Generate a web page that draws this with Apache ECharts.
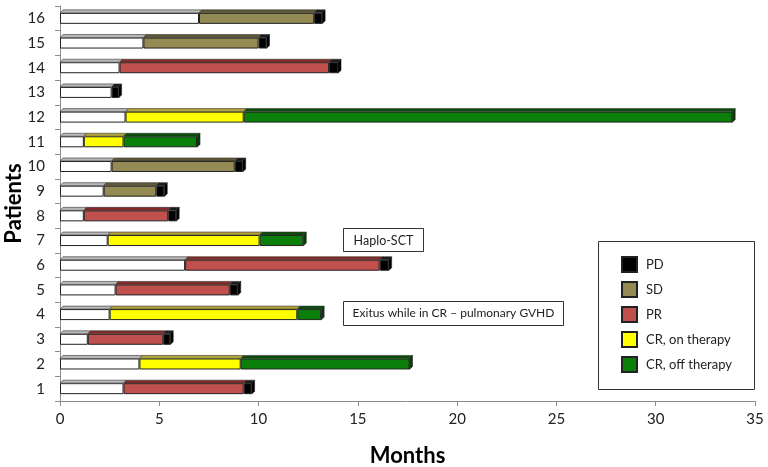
<!DOCTYPE html>
<html>
<head>
<meta charset="utf-8">
<script src="https://cdn.jsdelivr.net/npm/echarts@6/dist/echarts.min.js"></script>
<style>
  html, body { margin: 0; padding: 0; background: #fff; }
  #chart { width: 768px; height: 467px; }
</style>
</head>
<body>
<div id="chart"></div>
<script>
// patients 1..16 (bottom to top)
const patients = ['1','2','3','4','5','6','7','8','9','10','11','12','13','14','15','16'];

// months per segment (null = segment absent)
const before   = [3.2, 4.0, 1.4, 2.5, 2.8, 6.3, 2.4, 1.2, 2.2, 2.6, 1.2, 3.3, 2.6, 3.0, 4.2, 7.0];
const sd       = [null, null, null, null, null, null, null, null, 2.65, 6.2, null, null, null, null, 5.8, 5.8];
const pr       = [6.05, null, 3.8, null, 5.75, 9.8, null, 4.25, null, null, null, null, null, 10.55, null, null];
const crOn     = [null, 5.1, null, 9.45, null, null, 7.65, null, null, null, 2.0, 5.95, null, null, null, null];
const crOff    = [null, 8.5, null, 1.2, null, null, 2.2, null, null, null, 3.7, 24.6, null, null, null, null];
const pd       = [0.4, null, 0.35, null, 0.4, 0.45, null, 0.4, 0.4, 0.4, null, null, 0.35, 0.45, 0.4, 0.4];

const xTicks = [0, 5, 10, 15, 20, 25, 30, 35];

const segs = [
  { name: 'before', data: before, color: '#ffffff', top: '#b8b8b8', side: '#888888' },
  { name: 'SD', data: sd, color: '#948a54', top: '#5f5936', side: '#4a452a' },
  { name: 'PR', data: pr, color: '#c0504d', top: '#852a27', side: '#6a1f1d' },
  { name: 'CR, on therapy', data: crOn, color: '#ffff00', top: '#b3a63a', side: '#8a8020' },
  { name: 'CR, off therapy', data: crOff, color: '#0a800a', top: '#0b4d0b', side: '#083a08' },
  { name: 'PD', data: pd, color: '#000000', top: '#1a1a1a', side: '#000000' }
];

// top faces and right sides for the 3D look
const faces = [];
patients.forEach((p, i) => {
  let acc = 0;
  let lastIdx = -1;
  segs.forEach((s, k) => { if (s.data[i] != null) lastIdx = k; });
  segs.forEach((s, k) => {
    const v = s.data[i];
    if (v == null) return;
    faces.push([i, acc, acc + v, k, k === lastIdx ? 1 : 0]);
    acc += v;
  });
});

const chart = echarts.init(document.getElementById('chart'));
const font = 'Lato, "Open Sans", sans-serif';
const barH = 11;
const depth = 3;

const option = {
  animation: false,
  textStyle: { fontFamily: font },
  grid: { left: 60, right: 13, top: 6, bottom: 66, containLabel: false, outerBoundsMode: 'none' },
  legend: {
    orient: 'vertical',
    left: 616,
    top: 251,
    icon: 'rect',
    itemWidth: 15,
    itemHeight: 15,
    itemGap: 8,
    data: ['PD', 'SD', 'PR', 'CR, on therapy', 'CR, off therapy'],
    textStyle: { fontSize: 13, color: '#222', fontFamily: font, padding: [0, 0, 0, 4] }
  },
  xAxis: {
    type: 'value',
    min: 0,
    max: 35,
    interval: 5,
    name: 'Months',
    nameLocation: 'middle',
    nameGap: 44,
    nameTextStyle: { fontSize: 22, fontWeight: 'bold', color: '#000', fontFamily: font },
    axisLine: { show: true, lineStyle: { color: '#8c8c8c' } },
    axisTick: { show: true, lineStyle: { color: '#8c8c8c' } },
    axisLabel: { fontSize: 15, color: '#222', margin: 11, formatter: v => xTicks.includes(v) ? String(v) : '' },
    splitLine: { show: false }
  },
  yAxis: {
    type: 'category',
    data: patients,
    name: 'Patients',
    nameLocation: 'middle',
    nameGap: 35,
    nameMoveOverlap: false,
    nameRotate: 90,
    nameTextStyle: { fontSize: 22, fontWeight: 'bold', color: '#000', fontFamily: font },
    axisLine: { show: true, lineStyle: { color: '#8c8c8c' } },
    axisTick: { show: true, lineStyle: { color: '#8c8c8c' } },
    axisLabel: { fontSize: 15, color: '#222', margin: 15 }
  },
  series: segs.map(s => ({
    name: s.name,
    type: 'bar',
    stack: 'total',
    barWidth: barH,
    data: s.data.map(v => v == null ? '-' : v),
    itemStyle: { color: s.color, borderColor: '#222', borderWidth: 1 },
    z: 2
  })).concat([{
    type: 'custom',
    silent: true,
    z: 3,
    data: faces,
    encode: { x: [1, 2], y: 0 },
    renderItem: (params, api) => {
      const cat = api.value(0);
      const a = api.coord([api.value(1), cat]);
      const b = api.coord([api.value(2), cat]);
      const s = segs[api.value(3)];
      const last = api.value(4) === 1;
      const yTop = a[1] - barH / 2;
      const yBot = a[1] + barH / 2;
      const children = [{
        type: 'polygon',
        shape: { points: [[a[0], yTop], [b[0], yTop], [b[0] + depth, yTop - depth], [a[0] + depth, yTop - depth]] },
        style: { fill: s.top, stroke: '#333', lineWidth: 0.6 }
      }];
      if (last) {
        children.push({
          type: 'polygon',
          shape: { points: [[b[0], yTop], [b[0] + depth, yTop - depth], [b[0] + depth, yBot - depth], [b[0], yBot]] },
          style: { fill: s.side, stroke: '#222', lineWidth: 0.6 }
        });
      }
      return { type: 'group', children: children };
    }
  }]),
  graphic: [
    {
      type: 'rect', left: 598, top: 241, z: 1,
      shape: { width: 156, height: 148 },
      style: { fill: '#fff', stroke: '#333', lineWidth: 1 }
    },
    {
      type: 'group', left: 343, top: 228, z: 5,
      children: [
        { type: 'rect', shape: { x: 0, y: 0, width: 80, height: 23 }, style: { fill: '#fff', stroke: '#333', lineWidth: 1 } },
        { type: 'text', x: 40, y: 12, style: { text: 'Haplo-SCT', fontSize: 12.5, fill: '#222', fontFamily: font, align: 'center', verticalAlign: 'middle' } }
      ]
    },
    {
      type: 'group', left: 343, top: 301, z: 5,
      children: [
        { type: 'rect', shape: { x: 0, y: 0, width: 220, height: 24 }, style: { fill: '#fff', stroke: '#333', lineWidth: 1 } },
        { type: 'text', x: 110, y: 12, style: { text: 'Exitus while in CR \u2013 pulmonary GVHD', fontSize: 12, fill: '#222', fontFamily: font, align: 'center', verticalAlign: 'middle' } }
      ]
    }
  ]
};

chart.setOption(option);
</script>
</body>
</html>
